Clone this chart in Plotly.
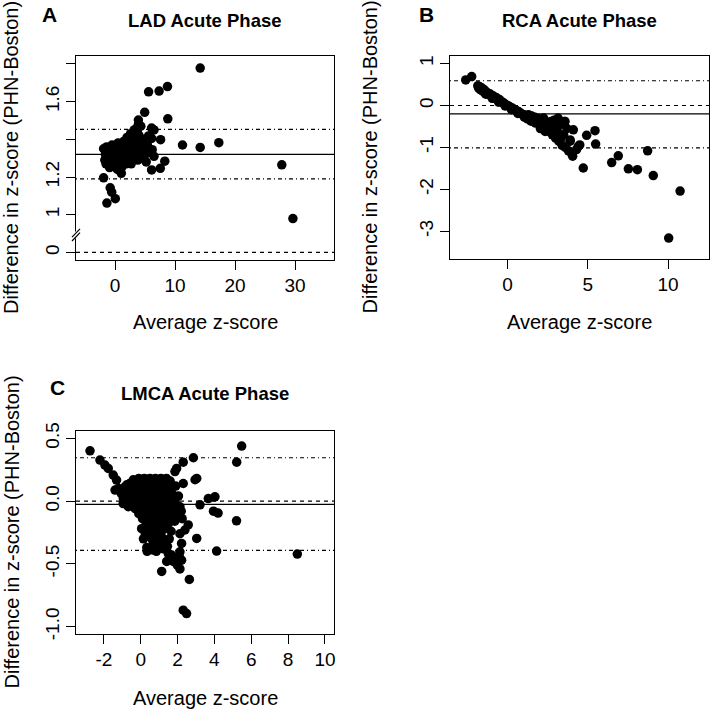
import plotly.graph_objects as go

FONT = "Liberation Sans, Arial, Helvetica, sans-serif"
W = H = 711

# ---------------- Panel A: LAD ----------------
a_x = [14.2, 5.6, 7.35, 8.75, 8.8, 4.95, 3.9, 11.25, 14.2, 17.3, 27.8, 29.65,
       -1.9, -1.35, 0.05, -0.8, -0.55, 1.05, 7.55, 6.1, 8.3, 6.1, 6.5, 5.6, 6.1,
       7.6, 6.2, 6.5, 3.6, 4.3, 3.7, 3.2,
       -1.9, -1.6, -1.4, -1.2, -1.0, -0.8, -0.6, -0.5, -0.3, -0.1, 0.0, 0.2, 0.3,
       0.5, 0.6, 0.7, 0.9, 1.0, 1.2, 1.3, 1.5, 1.6, 1.8, 1.9, 2.0, 2.2, 2.3, 2.5,
       2.6, 2.8, 2.9, 3.0, 3.2, 3.3, 3.5, 3.6, 3.8, 3.9, 4.0, 4.2, 4.3, 4.5, 4.6,
       4.8, 5.0, 5.2, 5.4, 5.6, 0.4, 1.1, 2.1, -1.5, -0.9, 2.7, 3.4,
       -1.7, -0.2, 0.8, 1.7, 2.4, 3.1, 4.4, 5.1, -1.1, 0.1]
a_y = [1.778, 1.652, 1.656, 1.68, 1.509, 1.543, 1.502, 1.37, 1.357, 1.382, 1.265, 0.98,
       1.196, 1.062, 1.085, 1.143, 1.12, 1.22, 1.246, 1.238, 1.284, 1.46, 1.45, 1.418, 1.405,
       1.398, 1.345, 1.31, 1.458, 1.47, 1.44, 1.42,
       1.35, 1.32, 1.36, 1.30, 1.34, 1.28, 1.33, 1.37, 1.30, 1.26, 1.35, 1.32, 1.29,
       1.38, 1.34, 1.27, 1.31, 1.36, 1.33, 1.29, 1.39, 1.35, 1.31, 1.27, 1.41, 1.37, 1.33, 1.29,
       1.43, 1.39, 1.35, 1.31, 1.45, 1.41, 1.37, 1.33, 1.29, 1.48, 1.42, 1.38, 1.34, 1.30, 1.40,
       1.36, 1.32, 1.28, 1.37, 1.33, 1.24, 1.25, 1.28, 1.27, 1.25, 1.27, 1.30,
       1.29, 1.33, 1.30, 1.36, 1.31, 1.38, 1.36, 1.35, 1.31, 1.28]
a_mean, a_upper, a_lower = 1.32, 1.453, 1.19
a_xticks = [0, 10, 20, 30]
a_xticklabels = ["0", "10", "20", "30"]
a_yticks = [0, 1.0, 1.2, 1.4, 1.6, 1.8]
a_yticklabels = ["0", "1", "1.2", "", "1.6", ""]
A_BREAK_SHIFT = 0.8  # values below the axis break are drawn shifted up by this


def a_scale(v):
    return v if v >= 0.5 else v + A_BREAK_SHIFT


# ---------------- Panel B: RCA ----------------
b_x = [-2.6, -2.23, 4.1, 3.9, 4.5, 4.72, 4.93, 5.45, 5.49, 6.49, 6.9, 7.53, 8.09, 8.73,
       9.08, 10.75, 10.04, 4.06, 4.3, 4.4, 3.06, 3.58,
       -1.85, -1.8, -1.75, -1.7, -1.65, -1.6, -1.55, -1.5, -1.45, -1.4, -1.3, -1.2, -1.1,
       -1.0, -0.9, -0.8, -0.7, -0.6, -0.5, -0.4, -0.3, -0.2, -0.1, 0.0, 0.1, 0.2, 0.3,
       0.4, 0.5, 0.6, 0.7, 0.8, 0.9, 1.0, 1.1, 1.2, 1.3, 1.4, 1.5, 1.6, 1.7, 1.8, 1.9,
       2.0, 2.1, 2.2, 2.3, 2.4, 2.5, 2.6, 2.7, 2.8, 2.9, 3.0, 3.1, 3.2, 3.3, 3.4, 3.5,
       3.6, 3.7, 3.8, 3.9, 4.0, 1.25, 1.75, 2.25, 2.75, 2.35, 2.9, 3.3, 3.15, 3.55, 2.05,
       1.55, -1.35, -0.95, -0.55, -0.15, 0.25, 0.65, 1.05, 1.45]
b_y = [0.61, 0.69, -0.58, -0.82, -0.94, -1.49, -0.71, -0.6, -0.92, -1.36, -1.2, -1.51,
       -1.53, -1.08, -1.67, -2.04, -3.16, -1.21, -1.05, -0.98, -0.34, -0.38,
       0.47, 0.42, 0.45, 0.38, 0.43, 0.36, 0.40, 0.33, 0.37, 0.30, 0.32, 0.27, 0.28,
       0.22, 0.23, 0.18, 0.19, 0.13, 0.14, 0.09, 0.08, 0.05, 0.02, 0.0, -0.02, -0.05, -0.06,
       -0.09, -0.11, -0.13, -0.15, -0.18, -0.2, -0.22, -0.24, -0.26, -0.22, -0.3, -0.25,
       -0.34, -0.28, -0.38, -0.31, -0.43, -0.35, -0.5, -0.4, -0.56, -0.45, -0.62, -0.38,
       -0.7, -0.5, -0.78, -0.6, -0.85, -0.45, -0.95, -0.7, -1.0, -0.55, -1.08, -0.85,
       -1.15, -0.32, -0.42, -0.3, -0.55, -0.62, -0.35, -0.8, -0.3, -0.38, -0.55, -0.38,
       0.27, 0.17, 0.08, -0.01, -0.1, -0.19, -0.28, -0.37]
b_mean, b_upper, b_lower = -0.2, 0.59, -1.01
b_xticks = [0, 5, 10]
b_xticklabels = ["0", "5", "10"]
b_yticks = [1, 0, -1, -2, -3]
b_yticklabels = ["1", "0", "-1", "-2", "-3"]

# ---------------- Panel C: LMCA ----------------
c_x = [-2.75, -2.21, -1.94, -1.76, -1.49, -1.31, -1.39, -0.85, -0.94, -0.67,
       2.31, 2.86, 1.95, 1.86, 2.31, 3.04, 2.95, 3.67, 4.03, 3.22, 3.95, 4.2, 5.2,
       5.48, 5.21, 4.12, 8.5, 3.04, 2.58, 2.4, 2.13, 2.22, 2.13, 2.09, 2.22, 1.99, 2.13,
       2.64, 2.31, 2.49, 1.14, 1.41, 1.68, 1.5, 0.87, 1.23, 0.33, 0.69, 1.77, 2.13,
       -0.1, 0.2, 0.5, 0.8, 1.1, 1.4,
       -0.6, -0.3, 0.0, 0.3, 0.6, 0.9, 1.2, 1.5,
       -0.8, -0.5, -0.2, 0.1, 0.4, 0.7, 1.0, 1.3, 1.6,
       -0.7, -0.4, -0.1, 0.2, 0.5, 0.8, 1.1, 1.4, 1.7,
       -0.6, -0.3, 0.0, 0.3, 0.6, 0.9, 1.2, 1.5, 1.8,
       -0.5, -0.2, 0.1, 0.4, 0.7, 1.0, 1.3, 1.6, 1.9,
       -0.3, 0.0, 0.3, 0.6, 0.9, 1.2, 1.5, 1.8,
       -0.1, 0.2, 0.5, 0.8, 1.1, 1.4, 1.7, 2.0,
       0.1, 0.4, 0.7, 1.0, 1.3, 1.6,
       0.3, 0.6, 0.9, 1.2, 1.5,
       0.4, 0.7, 1.0, 1.3,
       0.5, 0.8, 1.1,
       0.6, 0.9, 1.2,
       0.7, 1.0, 1.3,
       1.6, 1.9, 2.05, -0.4, -0.75, 2.2, 0.15, 0.25, 1.55, 1.65, 1.45, 0.5, 0.05,
       -1.05, -1.2, 1.85, 2.25, 0.35, 0.85, -0.95]
c_y = [0.40, 0.327, 0.287, 0.26, 0.207, 0.167, 0.088, 0.114, 0.021, -0.045,
       0.31, 0.345, 0.26, 0.235, 0.14, 0.18, 0.17, 0.02, 0.034, -0.03, -0.08, -0.095, -0.157,
       0.438, 0.31, -0.398, -0.422, -0.297, -0.19, -0.23, -0.26, -0.337, -0.404, -0.44, -0.47,
       -0.51, -0.54, -0.624, -0.868, -0.895, -0.56, -0.48, -0.43, -0.42, -0.34, -0.38, -0.37,
       -0.39, -0.48, -0.045,
       0.18, 0.18, 0.18, 0.18, 0.18, 0.18,
       0.14, 0.14, 0.14, 0.14, 0.14, 0.14, 0.14, 0.14,
       0.10, 0.10, 0.10, 0.10, 0.10, 0.10, 0.10, 0.10, 0.10,
       0.06, 0.06, 0.06, 0.06, 0.06, 0.06, 0.06, 0.06, 0.06,
       0.02, 0.02, 0.02, 0.02, 0.02, 0.02, 0.02, 0.02, 0.02,
       -0.02, -0.02, -0.02, -0.02, -0.02, -0.02, -0.02, -0.02, -0.02,
       -0.06, -0.06, -0.06, -0.06, -0.06, -0.06, -0.06, -0.06,
       -0.10, -0.10, -0.10, -0.10, -0.10, -0.10, -0.10, -0.10,
       -0.14, -0.14, -0.14, -0.14, -0.14, -0.14,
       -0.18, -0.18, -0.18, -0.18, -0.18,
       -0.22, -0.22, -0.22, -0.22,
       -0.26, -0.26, -0.26,
       -0.30, -0.30, -0.30,
       -0.34, -0.34, -0.34,
       0.16, 0.12, 0.04, 0.17, 0.13, -0.08, -0.30, -0.26, -0.30, -0.24, -0.36, -0.38, -0.22,
       0.06, 0.10, -0.16, -0.14, -0.40, -0.40, -0.02]
c_mean, c_upper, c_lower = -0.026, 0.345, -0.393
c_xticks = [-2, 0, 2, 4, 6, 8, 10]
c_xticklabels = ["-2", "0", "2", "4", "6", "8", "10"]
c_yticks = [0.5, 0.0, -0.5, -1.0]
c_yticklabels = ["0.5", "0.0", "-0.5", "-1.0"]

titles = ["LAD Acute Phase", "RCA Acute Phase", "LMCA Acute Phase"]
letters = ["A", "B", "C"]
xlabel = "Average z-score"
ylabel = "Difference in z-score (PHN-Boston)"


def xd(l, r):
    return [l / W, r / W]


def yd(t, b):
    return [1 - b / H, 1 - t / H]


fig = go.Figure()
mk = dict(color="black", size=9.5)
fig.add_trace(go.Scatter(x=a_x, y=[a_scale(v) for v in a_y], mode="markers",
                         marker=mk, xaxis="x", yaxis="y", showlegend=False))
fig.add_trace(go.Scatter(x=b_x, y=b_y, mode="markers", marker=mk,
                         xaxis="x2", yaxis="y2", showlegend=False))
fig.add_trace(go.Scatter(x=c_x, y=c_y, mode="markers", marker=mk,
                         xaxis="x3", yaxis="y3", showlegend=False))

LW = 1.2
tickfont = dict(family=FONT, size=19, color="black")
axcommon = dict(showline=True, mirror=True, linecolor="black", linewidth=LW,
                ticks="outside", ticklen=9, tickwidth=LW, tickcolor="black",
                showgrid=False, zeroline=False, tickfont=tickfont, fixedrange=True,
                automargin=False, tickmode="array")
XSTAND = -1
YSTAND = -1

fig.update_layout(
    width=W, height=H, margin=dict(l=0, r=0, t=0, b=0, pad=0), autosize=False,
    paper_bgcolor="white", plot_bgcolor="white",
    xaxis=dict(domain=xd(76, 334), anchor="y", range=[-6.5, 36.5],
               tickvals=a_xticks, ticktext=a_xticklabels, ticklabelstandoff=XSTAND,
               **axcommon),
    yaxis=dict(domain=yd(56, 260), anchor="x", range=[0.76, 1.842],
               tickvals=[a_scale(v) for v in a_yticks], ticktext=a_yticklabels,
               tickangle=-90, ticklabelstandoff=YSTAND, **axcommon),
    xaxis2=dict(domain=xd(450, 709), anchor="y2", range=[-3.58, 12.55],
                tickvals=b_xticks, ticktext=b_xticklabels, ticklabelstandoff=XSTAND,
                **axcommon),
    yaxis2=dict(domain=yd(56, 259), anchor="x2", range=[-3.66, 1.18],
                tickvals=b_yticks, ticktext=b_yticklabels,
                tickangle=-90, ticklabelstandoff=YSTAND, **axcommon),
    xaxis3=dict(domain=xd(76, 334), anchor="y3", range=[-3.51, 10.49],
                tickvals=c_xticks, ticktext=c_xticklabels, ticklabelstandoff=XSTAND,
                **axcommon),
    yaxis3=dict(domain=yd(431, 634), anchor="x3", range=[-1.058, 0.558],
                tickvals=c_yticks, ticktext=c_yticklabels,
                tickangle=-90, ticklabelstandoff=YSTAND, **axcommon),
)

DASH = "4px,4px"
DASHDOT = "1px,3px,4px,3px"
shapes = []
for xa, ya, mean, up, lo, zero in [("x", "y", a_mean, a_upper, a_lower, a_scale(0)),
                                   ("x2", "y2", b_mean, b_upper, b_lower, 0),
                                   ("x3", "y3", c_mean, c_upper, c_lower, 0)]:
    for val, dash in [(mean, "solid"), (up, DASHDOT), (lo, DASHDOT), (zero, DASH)]:
        shapes.append(dict(type="line", xref=f"{xa} domain", yref=ya, x0=0, x1=1,
                           y0=val, y1=val, line=dict(color="black", width=LW, dash=dash),
                           layer="above"))

# axis break marks on panel A's y axis
brk = 0.893  # position of the break on the transformed scale
shapes.append(dict(type="line", xref="paper", yref="y", x0=76 / W, x1=76 / W,
                   y0=brk - 0.018, y1=brk + 0.018, line=dict(color="white", width=3),
                   layer="above"))
for off in (-0.01, 0.01):
    shapes.append(dict(type="line", xref="paper", yref="y", x0=72 / W, x1=80 / W,
                       y0=brk + off - 0.022, y1=brk + off + 0.022,
                       line=dict(color="black", width=LW), layer="above"))
fig.update_layout(shapes=shapes)

ann = []


def add_text(txt, x, y, size, bold=False, angle=0):
    ann.append(dict(text=f"<b>{txt}</b>" if bold else txt, x=x / W, y=1 - y / H,
                    xref="paper", yref="paper", showarrow=False, textangle=angle,
                    xanchor="center", yanchor="middle",
                    font=dict(family=FONT, size=size, color="black")))


add_text(letters[0], 49, 15, 21, True)
add_text(letters[1], 426, 15, 21, True)
add_text(letters[2], 57, 388, 21, True)
add_text(titles[0], 205, 20, 18.5, True)
add_text(titles[1], 579.5, 20, 18.5, True)
add_text(titles[2], 205, 393, 18.5, True)
add_text(xlabel, 205, 322, 20)
add_text(xlabel, 579.5, 322, 20)
add_text(xlabel, 205, 698, 20)
add_text(ylabel, 11, 158, 20, angle=-90)
add_text(ylabel, 370, 157.5, 20, angle=-90)
add_text(ylabel, 11, 532.5, 20, angle=-90)
fig.update_layout(annotations=ann)

fig.write_html("out.html", config={"displayModeBar": False},
               post_script="document.body.style.margin='0';document.body.style.padding='0';"
                           "document.body.style.overflow='hidden';")
